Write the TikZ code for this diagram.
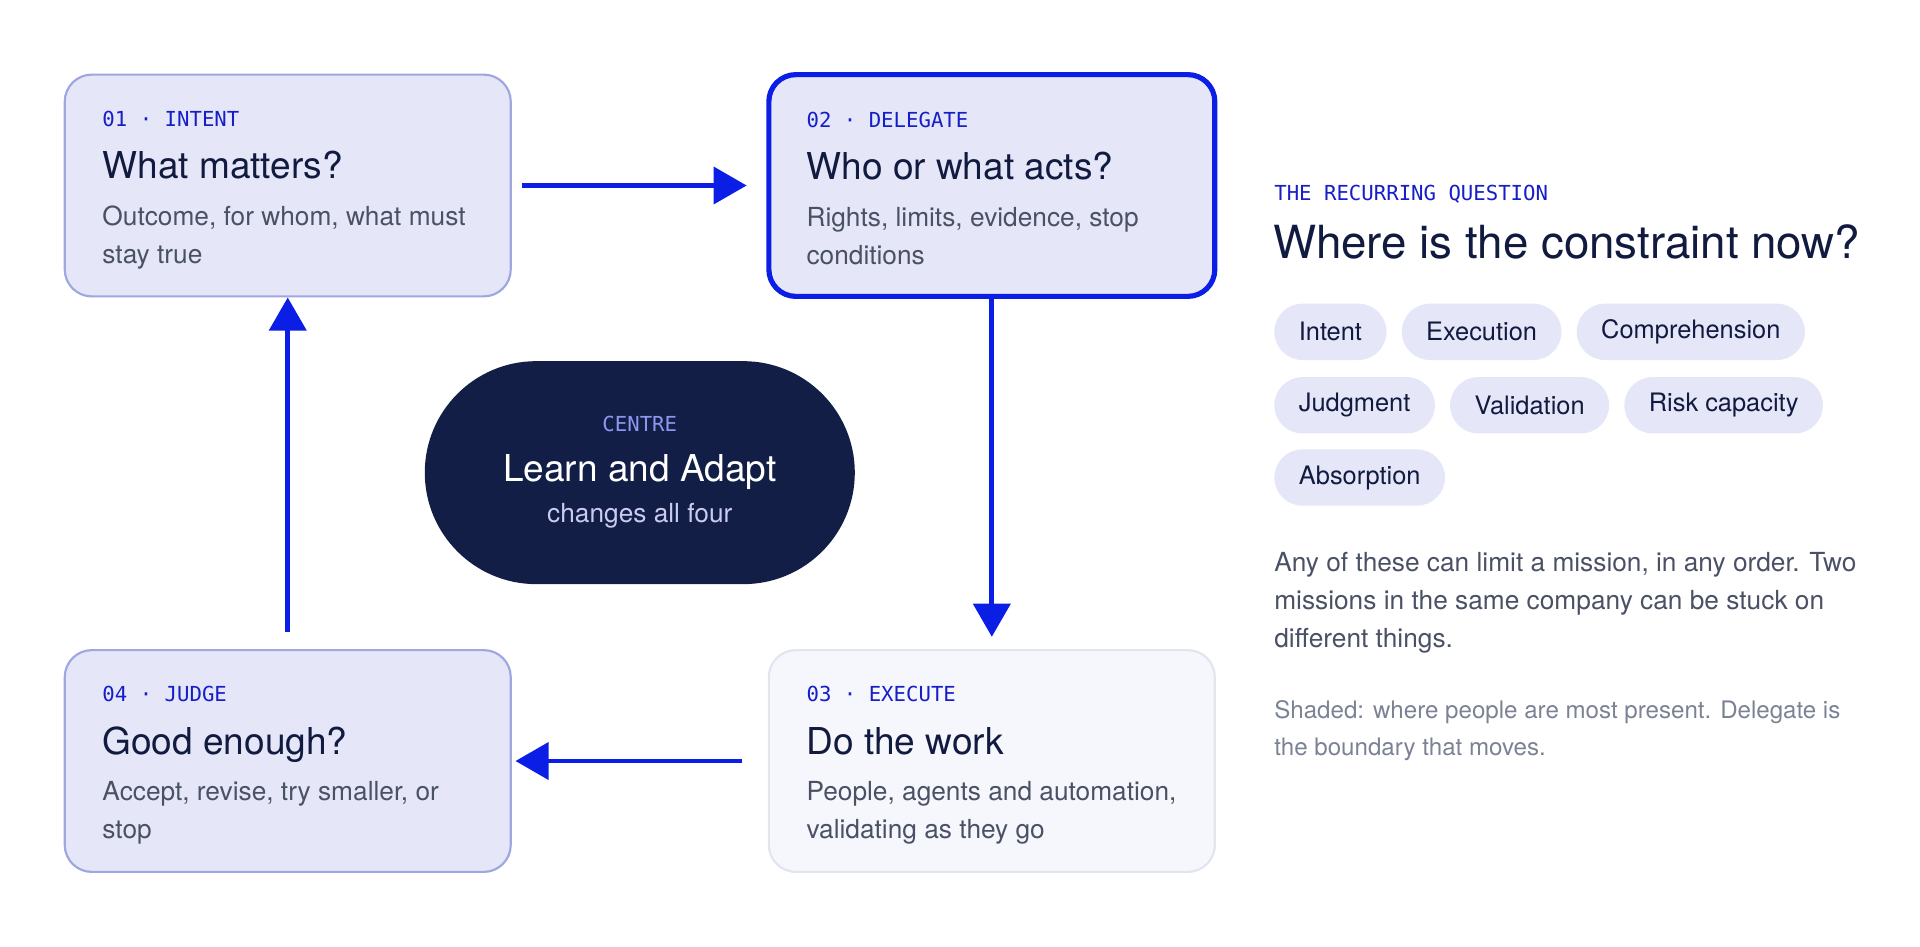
\documentclass[tikz,border=0pt]{standalone}
\usepackage{fontspec}
\setmainfont{TeX Gyre Heros}
\newfontfamily\monofont{DejaVu Sans Mono}
\usetikzlibrary{arrows.meta,positioning}

\definecolor{stageFill}{RGB}{229,231,248}
\definecolor{stageLine}{RGB}{159,166,224}
\definecolor{doFill}{RGB}{246,247,253}
\definecolor{doLine}{RGB}{226,228,238}
\definecolor{loopBlue}{RGB}{10,30,230}
\definecolor{tagBlue}{RGB}{22,30,200}
\definecolor{inkColor}{RGB}{17,26,63}
\definecolor{bodyGrey}{RGB}{74,81,101}
\definecolor{noteGrey}{RGB}{123,130,148}
\definecolor{centreFill}{RGB}{18,30,69}

\tikzset{
  stage/.style={draw=stageLine, fill=stageFill, line width=0.5pt, rounded corners=0.22cm,
    minimum width=3.64cm, minimum height=1.81cm, inner sep=0pt},
  tag/.style={anchor=base west, inner sep=0pt, text=tagBlue, font=\monofont\fontsize{4.8}{6}\selectfont},
  title/.style={anchor=base west, inner sep=0pt, text=inkColor, font=\fontsize{8.6}{10}\selectfont},
  body/.style={anchor=base west, inner sep=0pt, text=bodyGrey, font=\fontsize{6.1}{7}\selectfont},
  chip/.style={fill=stageFill, rounded corners=0.23cm, minimum height=0.46cm, inner xsep=0.2cm,
    text=inkColor, font=\fontsize{5.9}{7}\selectfont, anchor=west},
  flow/.style={draw=loopBlue, line width=1.1pt, -{Triangle[length=0.27cm, width=0.3cm]}}
}

\begin{document}
\begin{tikzpicture}[x=0.01cm, y=-0.01cm]
  \useasboundingbox (0,0) rectangle (1568,773);
  % Stages
  \node[stage] (intent) at (235,151.5) {};
  \node[stage, draw=loopBlue, line width=1.2pt] (delegate) at (810,151.5) {};
  \node[stage, draw=doLine, fill=doFill] (execute) at (810,621.5) {};
  \node[stage] (judge) at (235,621.5) {};
  % Stage texts
  \node[tag] at (83,103) {01 · INTENT};
  \node[title] at (83,146) {What matters?};
  \node[body] at (83,184) {Outcome, for whom, what must};
  \node[body] at (83,215) {stay true};
  \node[tag] at (658,104) {02 · DELEGATE};
  \node[title] at (658,147) {Who or what acts?};
  \node[body] at (658,185) {Rights, limits, evidence, stop};
  \node[body] at (658,216) {conditions};
  \node[tag] at (658,573) {03 · EXECUTE};
  \node[title] at (658,616) {Do the work};
  \node[body] at (658,654) {People, agents and automation,};
  \node[body] at (658,685) {validating as they go};
  \node[tag] at (83,573) {04 · JUDGE};
  \node[title] at (83,616) {Good enough?};
  \node[body] at (83,654) {Accept, revise, try smaller, or};
  \node[body] at (83,685) {stop};
  % Loop
  \draw[flow, shorten <=0.08cm, shorten >=0.16cm] (intent.east) -- (delegate.west);
  \draw[flow, shorten >=0.1cm] (delegate.south) -- (execute.north);
  \draw[flow, shorten <=0.21cm, shorten >=0.03cm] (execute.west) -- (judge.east);
  \draw[flow, shorten <=0.14cm] (judge.north) -- (intent.south);
  % Centre
  \node[fill=centreFill, rounded corners=0.91cm, minimum width=3.51cm, minimum height=1.82cm] (centre) at (522.5,386) {};
  \node[anchor=base, text={rgb,255:red,142;green,151;blue,240}, font=\monofont\fontsize{4.8}{6}\selectfont] at (522.5,352) {CENTRE};
  \node[anchor=base, text=white, font=\fontsize{8.6}{10}\selectfont] at (522.5,393) {Learn and Adapt};
  \node[anchor=base, text={rgb,255:red,201;green,204;blue,240}, font=\fontsize{6.1}{7}\selectfont] at (522.5,427) {changes all four};
  % Question
  \node[tag] at (1040,164) {THE RECURRING QUESTION};
  \node[anchor=base west, inner sep=0pt, text=inkColor, font=\fontsize{10.6}{12}\selectfont] at (1039,211) {Where is the constraint now?};
  \node[chip] (c1) at (1040,271) {Intent};
  \node[chip, right=0.11cm of c1] (c2) {Execution};
  \node[chip, right=0.11cm of c2] (c3) {Comprehension};
  \node[chip] (c4) at (1040,331) {Judgment};
  \node[chip, right=0.11cm of c4] (c5) {Validation};
  \node[chip, right=0.11cm of c5] (c6) {Risk capacity};
  \node[chip] (c7) at (1040,390) {Absorption};
  % Notes
  \node[body] at (1040,467) {Any of these can limit a mission, in any order. Two};
  \node[body] at (1040,498) {missions in the same company can be stuck on};
  \node[body] at (1040,529) {different things.};
  \node[body, text=noteGrey, font=\fontsize{5.6}{7}\selectfont] at (1040,587) {Shaded: where people are most present. Delegate is};
  \node[body, text=noteGrey, font=\fontsize{5.6}{7}\selectfont] at (1040,617) {the boundary that moves.};
\end{tikzpicture}
\end{document}
